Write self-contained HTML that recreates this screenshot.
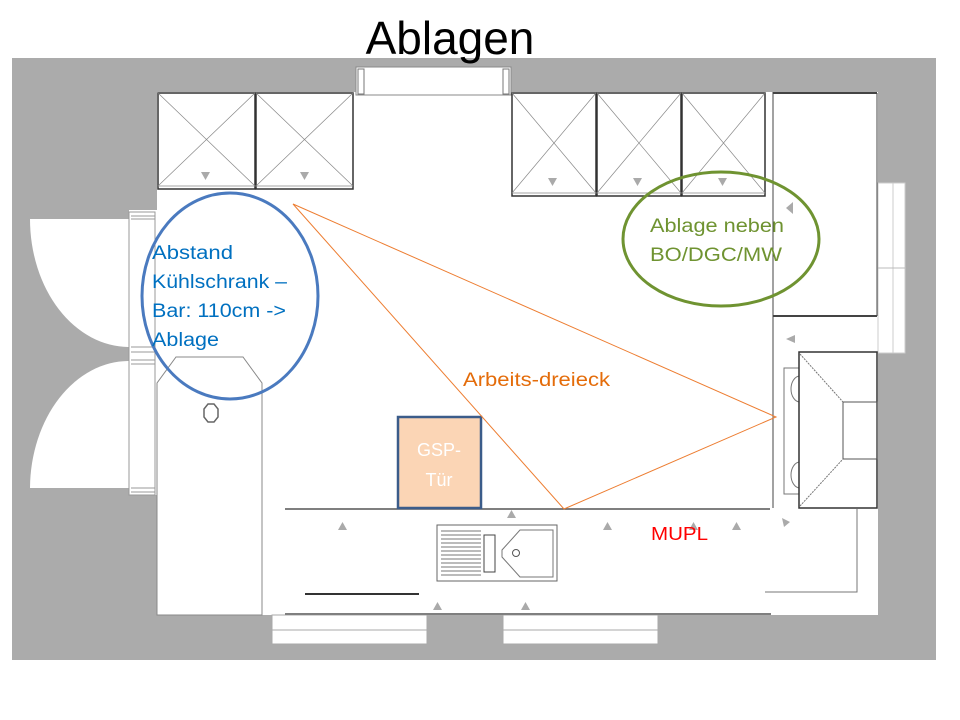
<!DOCTYPE html>
<html><head><meta charset="utf-8"><style>
html,body{margin:0;padding:0;background:#fff;width:960px;height:720px;overflow:hidden}
svg{display:block}
text{font-family:"Liberation Sans",sans-serif}
</style></head><body>
<svg width="960" height="720" viewBox="0 0 960 720" xmlns="http://www.w3.org/2000/svg">
<rect width="960" height="720" fill="#fff"/>
<!-- gray walls -->
<rect x="12" y="58" width="924" height="602" fill="#ababab"/>
<!-- white floor -->
<rect x="157" y="92" width="721" height="523" fill="#fff"/>
<rect x="129" y="210" width="30" height="285" fill="#fff"/>
<!-- top window -->
<rect x="356" y="67" width="155" height="28" fill="#fff" stroke="#888" stroke-width="1"/>
<rect x="358" y="69" width="6" height="25" fill="none" stroke="#777"/>
<rect x="503" y="69" width="6" height="25" fill="none" stroke="#777"/>
<!-- doors -->
<path d="M30 219 H129 V347 A99 128 0 0 1 30 219 Z" fill="#fff"/>
<path d="M30 488 H129 V361 A99 128 0 0 0 30 488 Z" fill="#fff"/>
<g fill="none" stroke="#999" stroke-width="1">
<rect x="129" y="212" width="26" height="283"/>
<line x1="131" y1="216" x2="155" y2="216"/><line x1="131" y1="219" x2="155" y2="219"/>
<line x1="131" y1="347" x2="155" y2="347"/><line x1="131" y1="352" x2="155" y2="352"/>
<line x1="131" y1="360" x2="155" y2="360"/><line x1="131" y1="364" x2="155" y2="364"/>
<line x1="131" y1="488" x2="155" y2="488"/><line x1="131" y1="492" x2="155" y2="492"/>
</g>
<!-- fridge -->
<path d="M157 383 L176 357 H243 L262 383 V615 H157 Z" fill="#fff" stroke="#888" stroke-width="1"/>
<path d="M204 409 L208 404 H214 L218 409 V417 L214 422 H208 L204 417 Z" fill="none" stroke="#666" stroke-width="1.5"/>
<!-- top cabinets -->
<g fill="none" stroke="#333" stroke-width="1.5">
<rect x="158" y="93" width="97" height="96"/>
<rect x="256" y="93" width="97" height="96"/>
<rect x="512" y="93" width="84" height="103"/>
<rect x="597" y="93" width="84" height="103"/>
<rect x="682" y="93" width="83" height="103"/>
</g>
<g stroke="#888" stroke-width="0.7">
<line x1="158" y1="93" x2="255" y2="186"/><line x1="255" y1="93" x2="158" y2="186"/>
<line x1="256" y1="93" x2="353" y2="186"/><line x1="353" y1="93" x2="256" y2="186"/>
<line x1="512" y1="93" x2="596" y2="193"/><line x1="596" y1="93" x2="512" y2="193"/>
<line x1="597" y1="93" x2="681" y2="193"/><line x1="681" y1="93" x2="597" y2="193"/>
<line x1="682" y1="93" x2="765" y2="193"/><line x1="765" y1="93" x2="682" y2="193"/>
<line x1="158" y1="186" x2="353" y2="186"/><line x1="512" y1="193" x2="765" y2="193"/>
</g>
<g fill="#aaa">
<path d="M201 172 h9 l-4.5 8z"/><path d="M300 172 h9 l-4.5 8z"/>
<path d="M548 178 h9 l-4.5 8z"/><path d="M633 178 h9 l-4.5 8z"/><path d="M718 178 h9 l-4.5 8z"/>
<path d="M793 202 v12 l-7 -6z"/><path d="M795 335 v8 l-9 -4z"/>
<path d="M338 530 h9 l-4.5 -8z"/><path d="M507 518 h9 l-4.5 -8z"/><path d="M603 530 h9 l-4.5 -8z"/>
<path d="M732 530 h9 l-4.5 -8z"/><path d="M689 530 h9 l-4.5 -8z"/>
<path d="M433 610 h9 l-4.5 -8z"/><path d="M521 610 h9 l-4.5 -8z"/>
<path d="M782 518 l8 4 l-6 5z"/>
</g>
<!-- right column -->
<g fill="none" stroke="#444" stroke-width="1">
<line x1="773" y1="92" x2="773" y2="508"/>
<line x1="773" y1="93" x2="877" y2="93" stroke-width="2"/>
<line x1="773" y1="316" x2="877" y2="316" stroke-width="2"/>
<line x1="877" y1="93" x2="877" y2="316"/>
</g>
<rect x="878" y="183" width="27" height="170" fill="#fff" stroke="#ccc"/>
<line x1="893" y1="183" x2="893" y2="353" stroke="#ccc"/>
<line x1="878" y1="268" x2="905" y2="268" stroke="#bbb"/>
<!-- stove -->
<rect x="784" y="368" width="16" height="126" fill="#fff" stroke="#777"/>
<path d="M800 376 A9 13 0 0 0 800 402 M800 462 A9 13 0 0 0 800 488" fill="none" stroke="#777"/>
<rect x="799" y="352" width="78" height="156" fill="#fff" stroke="#333" stroke-width="1.5"/>
<rect x="843" y="402" width="34" height="57" fill="none" stroke="#555"/>
<line x1="800" y1="354" x2="843" y2="402" stroke="#777" stroke-dasharray="2,1"/>
<line x1="800" y1="506" x2="843" y2="459" stroke="#777" stroke-dasharray="2,1"/>
<polyline points="857,509 857,592 765,592" fill="none" stroke="#777"/>
<!-- counter -->
<line x1="285" y1="509" x2="770" y2="509" stroke="#555" stroke-width="1.5"/>
<line x1="285" y1="614" x2="771" y2="614" stroke="#555" stroke-width="1.5"/>
<line x1="305" y1="594" x2="419" y2="594" stroke="#333" stroke-width="2"/>
<!-- sink -->
<rect x="437" y="525" width="120" height="56" fill="#fff" stroke="#666"/>
<g stroke="#777" stroke-width="1">
<line x1="441" y1="531" x2="481" y2="531"/><line x1="441" y1="535" x2="481" y2="535"/><line x1="441" y1="539" x2="481" y2="539"/>
<line x1="441" y1="543" x2="481" y2="543"/><line x1="441" y1="547" x2="481" y2="547"/><line x1="441" y1="551" x2="481" y2="551"/>
<line x1="441" y1="555" x2="481" y2="555"/><line x1="441" y1="559" x2="481" y2="559"/><line x1="441" y1="563" x2="481" y2="563"/>
<line x1="441" y1="567" x2="481" y2="567"/><line x1="441" y1="571" x2="481" y2="571"/><line x1="441" y1="575" x2="481" y2="575"/>
</g>
<rect x="484" y="535" width="11" height="37" fill="none" stroke="#444"/>
<path d="M520 530 H553 V577 H520 L502 557 V550 Z" fill="none" stroke="#777"/>
<circle cx="516" cy="553" r="3.5" fill="none" stroke="#555"/>
<!-- bottom windows -->
<rect x="272" y="615" width="155" height="29" fill="#fff" stroke="#aaa"/>
<line x1="272" y1="630" x2="427" y2="630" stroke="#aaa"/>
<rect x="503" y="615" width="155" height="29" fill="#fff" stroke="#aaa"/>
<line x1="503" y1="630" x2="658" y2="630" stroke="#aaa"/>
<!-- GSP box -->
<rect x="398" y="417" width="83" height="91" fill="#fbd5b5" stroke="#3b5c8a" stroke-width="2.5"/>
<text x="439" y="456" font-size="18" fill="#fff" text-anchor="middle">GSP-</text>
<text x="439" y="486" font-size="18" fill="#fff" text-anchor="middle">Tür</text>
<!-- triangle -->
<polygon points="293,204 776,417 564,509" fill="none" stroke="#ed7d31" stroke-width="1"/>
<text x="463" y="386" font-size="19" fill="#e46c0a" textLength="147" lengthAdjust="spacingAndGlyphs">Arbeits-dreieck</text>
<!-- blue ellipse -->
<ellipse cx="230" cy="296" rx="88" ry="103" fill="none" stroke="#4a7abf" stroke-width="3"/>
<g font-size="19" fill="#0070c0">
<text x="152" y="259" textLength="81" lengthAdjust="spacingAndGlyphs">Abstand</text>
<text x="152" y="288" textLength="135" lengthAdjust="spacingAndGlyphs">Kühlschrank –</text>
<text x="152" y="317" textLength="134" lengthAdjust="spacingAndGlyphs">Bar: 110cm -&gt;</text>
<text x="152" y="346" textLength="67" lengthAdjust="spacingAndGlyphs">Ablage</text>
</g>
<!-- green ellipse -->
<ellipse cx="721" cy="239" rx="98" ry="67" fill="none" stroke="#6f9331" stroke-width="3"/>
<g font-size="19" fill="#6f9331">
<text x="650" y="232" textLength="134" lengthAdjust="spacingAndGlyphs">Ablage neben</text>
<text x="650" y="261" textLength="132" lengthAdjust="spacingAndGlyphs">BO/DGC/MW</text>
</g>
<text x="651" y="540" font-size="18" fill="#ff0000" textLength="57" lengthAdjust="spacingAndGlyphs">MUPL</text>
<text x="450" y="54" font-size="46" text-anchor="middle" fill="#000">Ablagen</text>
</svg>
</body></html>
